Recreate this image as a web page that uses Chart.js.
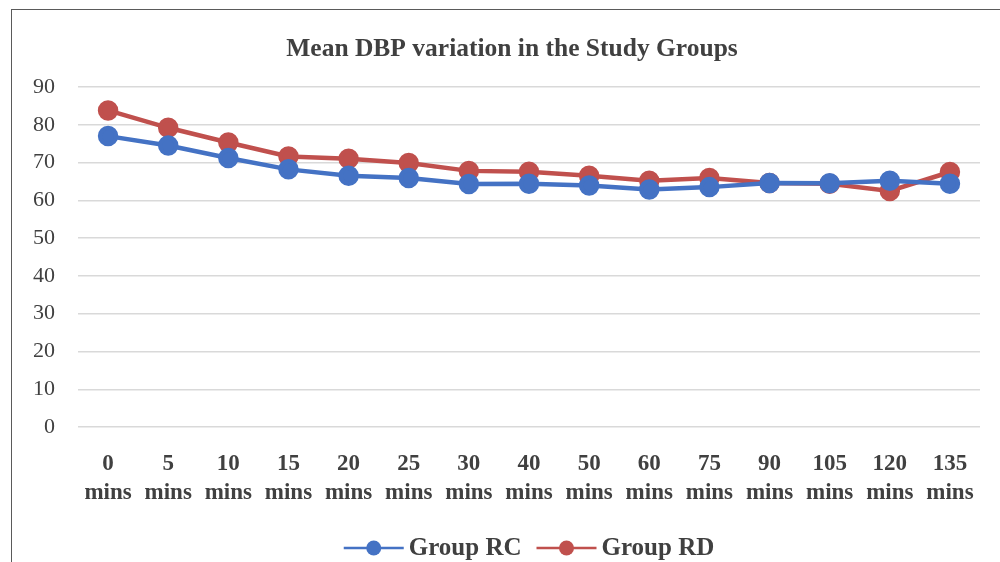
<!DOCTYPE html>
<html lang="en">
  <head>
    <meta charset="UTF-8" />
    <title>Mean DBP variation</title>
    <style>
      * {
        margin: 0;
        padding: 0;
        box-sizing: border-box;
      }
      body {
        width: 1000px;
        height: 562px;
        overflow: hidden;
        background: #fff;
        position: relative;
      }
      .frame {
        position: absolute;
        left: 11px;
        top: 9px;
        width: 1100px;
        height: 700px;
        border: 1.5px solid #5a5a5a;
      }
      .chartBox {
        position: absolute;
        left: 0;
        top: 0;
        width: 1000px;
        height: 562px;
      }
    </style>
  </head>
  <body>
    <div class="frame"></div>
    <div class="chartBox">
      <canvas id="myChart"></canvas>
    </div>

    <script src="https://cdn.jsdelivr.net/npm/chart.js"></script>

    <script>
      const chartTitle = "Mean DBP variation in the Study Groups";
      const timeLabels = ["0", "5", "10", "15", "20", "25", "30", "40", "50", "60", "75", "90", "105", "120", "135"];
      const groupRC = [77.0, 74.5, 71.2, 68.2, 66.5, 65.9, 64.3, 64.4, 63.9, 62.9, 63.5, 64.6, 64.5, 65.2, 64.4];
      const groupRD = [83.8, 79.2, 75.3, 71.6, 71.0, 69.9, 67.8, 67.6, 66.5, 65.2, 65.9, 64.6, 64.4, 62.5, 67.5];
      const yTicks = [0, 10, 20, 30, 40, 50, 60, 70, 80, 90];

      const serif = "'Liberation Serif', 'DejaVu Serif', serif";

      // title is centred on the frame, not on the plot, so draw it here
      const frameTitle = {
        id: "frameTitle",
        afterDraw(chart) {
          const { ctx } = chart;
          ctx.save();
          ctx.font = "bold 25.5px " + serif;
          ctx.fillStyle = "#404040";
          ctx.textAlign = "center";
          ctx.textBaseline = "middle";
          ctx.fillText(chartTitle, 512, 49);
          ctx.restore();
        },
      };

      // legend drawn by hand: line - dot - line, then label
      const lineLegend = {
        id: "lineLegend",
        afterDraw(chart) {
          const { ctx } = chart;
          ctx.save();
          ctx.font = "bold 25px " + serif;
          ctx.textBaseline = "middle";
          const y = 548;
          const lineW = 60;
          const gap = 5;
          const between = 15;
          const items = chart.data.datasets.map((ds) => ({
            ds,
            w: lineW + gap + ctx.measureText(ds.label).width,
          }));
          const total = items.reduce((s, it) => s + it.w, 0) + between * (items.length - 1);
          let x = 529 - total / 2;
          items.forEach((it) => {
            ctx.strokeStyle = it.ds.borderColor;
            ctx.lineWidth = 2.5;
            ctx.beginPath();
            ctx.moveTo(x, y);
            ctx.lineTo(x + lineW, y);
            ctx.stroke();
            ctx.fillStyle = it.ds.borderColor;
            ctx.beginPath();
            ctx.arc(x + lineW / 2, y, 7.5, 0, Math.PI * 2);
            ctx.fill();
            ctx.fillStyle = "#404040";
            ctx.fillText(it.ds.label, x + lineW + gap, y + 1);
            x += it.w + between;
          });
          ctx.restore();
        },
      };

      const data = {
        labels: timeLabels.map((t) => [t, "mins"]),
        datasets: [
          {
            label: "Group RC",
            data: groupRC,
            borderColor: "#4472C4",
            backgroundColor: "#4472C4",
            borderWidth: 4.5,
            pointRadius: 8,
            pointHoverRadius: 8,
            tension: 0,
          },
          {
            label: "Group RD",
            data: groupRD,
            borderColor: "#C0504D",
            backgroundColor: "#C0504D",
            borderWidth: 4.5,
            pointRadius: 8,
            pointHoverRadius: 8,
            tension: 0,
          },
        ],
      };

      const config = {
        type: "line",
        data: data,
        options: {
          responsive: false,
          animation: false,
          layout: {
            padding: { left: 10, right: 20, top: 87, bottom: 39 },
          },
          plugins: {
            legend: { display: false },
            tooltip: { enabled: false },
            title: { display: false },
          },
          scales: {
            x: {
              offset: true,
              grid: { display: false },
              border: { display: false },
              ticks: {
                color: "#404040",
                font: { family: serif, size: 23, weight: "bold", lineHeight: 1.26 },
                maxRotation: 0,
                autoSkip: false,
                padding: 15,
              },
            },
            y: {
              min: 0,
              max: 90,
              afterBuildTicks: (axis) => {
                axis.ticks = yTicks.map((v) => ({ value: v }));
              },
              grid: { color: "#d9d9d9", lineWidth: 1.5, drawTicks: false },
              border: { display: false },
              ticks: {
                color: "#404040",
                font: { family: serif, size: 22 },
                padding: 23,
              },
            },
          },
        },
        plugins: [frameTitle, lineLegend],
      };

      const canvas = document.getElementById("myChart");
      canvas.width = 1000;
      canvas.height = 562;
      const myChart = new Chart(canvas, config);
    </script>
  </body>
</html>
